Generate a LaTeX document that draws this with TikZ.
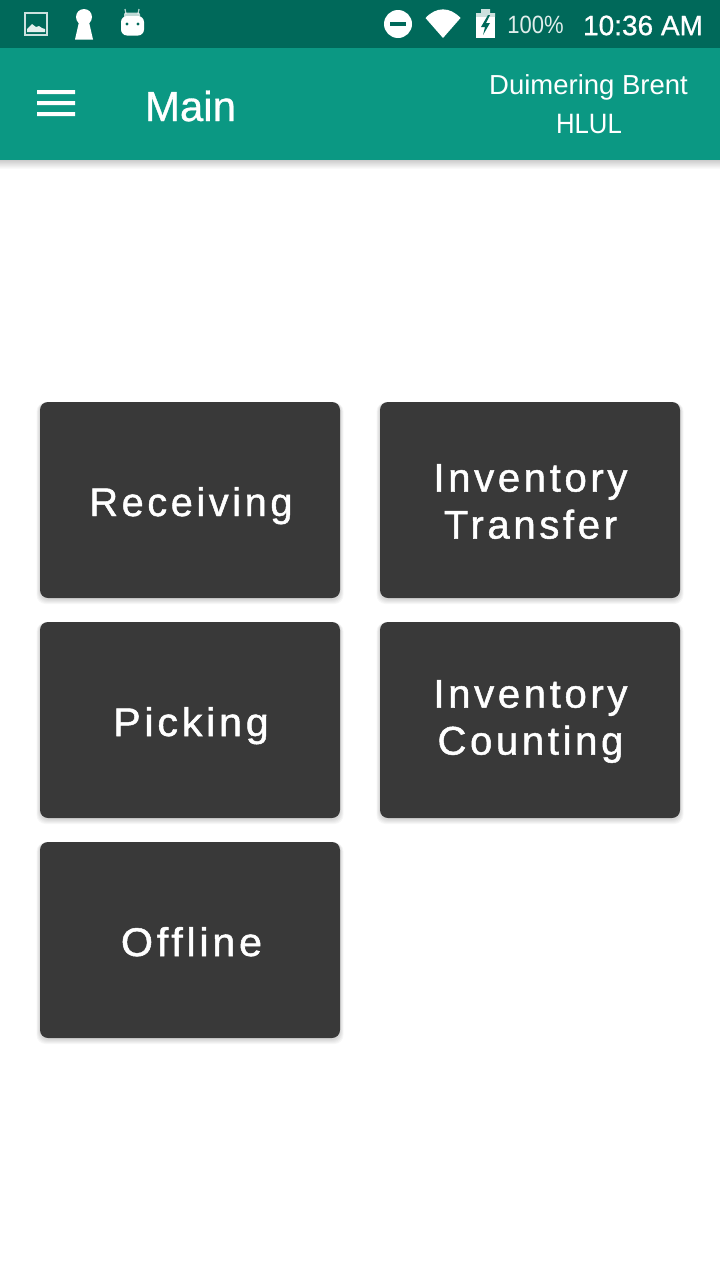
\documentclass[tikz,border=0pt]{standalone}
\usepackage{fontspec}
\setmainfont{Liberation Sans}
\newfontfamily\btnfont[LetterSpace=9.2,FakeBold=1.2]{Liberation Sans}
\newfontfamily\medfont[FakeBold=0.8]{Liberation Sans}
\usetikzlibrary{fadings}
\definecolor{statusbar}{HTML}{00695A}
\definecolor{toolbar}{HTML}{0B9883}
\definecolor{btn}{HTML}{393939}
\tikzset{
  x=1pt,y=-1pt,
  menubtn/.style={draw=none,fill=btn,rounded corners=8pt,minimum width=300pt,minimum height=196pt,inner sep=0pt,anchor=center},
  btnlabel/.style={text=white,inner sep=0pt,align=center,font=\btnfont\fontsize{40}{47}\selectfont},
  bartext/.style={text=white,inner sep=0pt,anchor=center},
  iconw/.style={fill=white,draw=none},
}
\newcommand{\softshadow}[2]{%
  \foreach \g in {5,4,3,2,1}{
    \fill[black,opacity=.03,rounded corners=9pt]
      ({#1-150-\g*.7},{#2-98+\g*.1}) rectangle ({#1+150+\g*.7},{#2+98+1+\g*1.0});
  }}
\begin{document}
\begin{tikzpicture}
\useasboundingbox (0,0) rectangle (720,1280);
\fill[white] (0,0) rectangle (720,1280);
% toolbar shadow
\fill[black,opacity=.2,path fading=south] (0,160) rectangle (720,169);
\fill[statusbar] (0,0) rectangle (720,48);
\fill[toolbar] (0,48) rectangle (720,160);
% status icons, left
\draw[white,opacity=.8,line width=2pt] (25,13) rectangle (47,35);
\fill[white,opacity=.9] (27,32) -- (27,29) -- (32,24) -- (36,27) -- (39,26) -- (42,28) -- (45,29) -- (45,32) -- cycle;
\fill[iconw] (84,17) circle (8);
\fill[iconw] (79,22) -- (89,22) -- (93,39.5) -- (75,39.5) -- cycle;
\draw[white,opacity=.7,line width=1.2pt] (126,14) -- (125,9) (138,14) -- (139,9);
\fill[white,opacity=.75,rounded corners=2pt] (124,12.5) rectangle (140,18);
\fill[iconw,rounded corners=6pt] (121,16) rectangle (144,35.5);
\fill[statusbar] (127,24) circle (1.6) (138,24) circle (1.6);
% status icons, right
\fill[iconw] (398,24) circle (14);
\fill[statusbar] (390,22) rectangle (406,26);
\fill[iconw] (425.5,18) .. controls (436,6.5) and (450,6.5) .. (460.5,18) -- (443,38) -- cycle;
\fill[iconw,opacity=.8] (476,13) -- (481,13) -- (481,9) -- (490,9) -- (490,13) -- (495,13) -- (495,17) -- (476,17) -- cycle;
\fill[iconw] (476,17) rectangle (495,37.5);
\fill[statusbar] (488,15) -- (481,27) -- (485,27) -- (483,35) -- (490,23) -- (486,23) -- (490,15) -- cycle;
\node[bartext,text=white!88!statusbar,font=\fontsize{25}{30}\selectfont,xscale=.88] (pct) at (535.5,25) {100\%};
\node[bartext,font=\medfont\fontsize{28}{33}\selectfont] (clock) at (643,25.5) {10:36 AM};
% toolbar
\fill[iconw] (37,90) rectangle (75,94) (37,101) rectangle (75,105) (37,112) rectangle (75,116);
\node[bartext,font=\medfont\fontsize{42}{48}\selectfont] (title) at (190.5,106) {Main};
\node[bartext,font=\fontsize{27.5}{33}\selectfont] (user) at (588.5,87.5) {Duimering Brent};
\node[bartext,font=\fontsize{28}{33}\selectfont,xscale=.92] (site) at (589,124.5) {HLUL};
% buttons
\softshadow{190}{500}\softshadow{530}{500}\softshadow{190}{720}\softshadow{530}{720}\softshadow{190}{940}
\node[menubtn] (receiving) at (190,500) {};
\node[menubtn] (transfer) at (530,500) {};
\node[menubtn] (picking) at (190,720) {};
\node[menubtn] (counting) at (530,720) {};
\node[menubtn] (offline) at (190,940) {};
\node[btnlabel,anchor=base,xscale=.99] (receivinglabel) at (191,516) {Receiving};
\node[btnlabel,anchor=center] (transferlabel) at (530.5,501.5) {Inventory\\Transfer};
\node[btnlabel,anchor=base,xscale=1.03] (pickinglabel) at (191,736) {Picking};
\node[btnlabel,anchor=center] (countinglabel) at (530.5,721.5) {Inventory\\Counting};
\node[btnlabel,anchor=base,xscale=1.03] (offlinelabel) at (191.5,956) {Offline};
\end{tikzpicture}
\end{document}
